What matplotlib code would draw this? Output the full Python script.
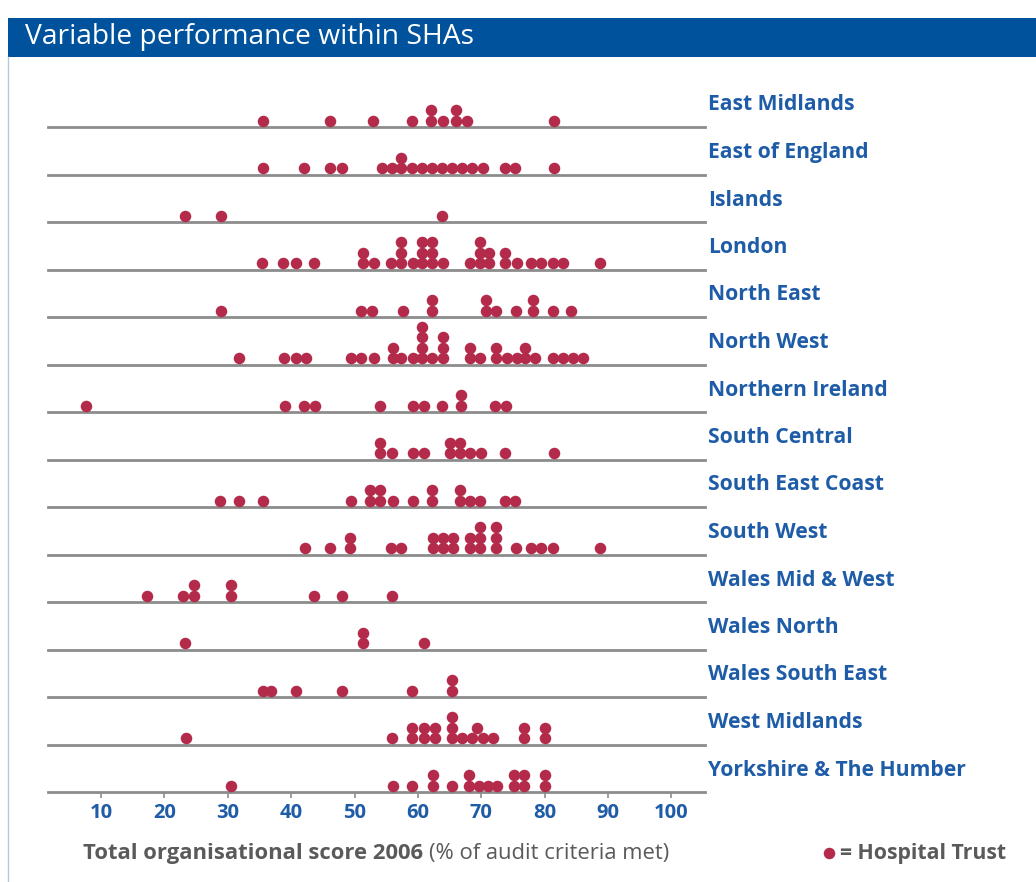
import matplotlib.pyplot as plt
from matplotlib.patches import Rectangle
from matplotlib.lines import Line2D

plt.rcParams['font.family'] = ['Open Sans', 'DejaVu Sans']

regions = ["East Midlands", "East of England", "Islands", "London", "North East",
           "North West", "Northern Ireland", "South Central", "South East Coast",
           "South West", "Wales Mid & West", "Wales North", "Wales South East",
           "West Midlands", "Yorkshire & The Humber"]

# scores per hospital trust (equal values stack up)
east_midlands = [35.5, 46.2, 52.9, 59.1, 62.1, 62.1, 64.0, 66.0, 66.0, 67.8, 81.5]
east_of_england = [35.5, 42.1, 46.2, 48.0, 54.3, 55.9, 57.4, 57.4, 59.0, 60.6, 62.2,
                   63.8, 65.4, 67.0, 68.6, 70.2, 73.7, 75.4, 81.5]
islands = [23.2, 29.0, 63.8]
london = [35.4, 38.7, 40.7, 43.6, 51.4, 51.4, 53.1, 55.8, 57.4, 57.4, 57.4, 59.2,
          60.7, 60.7, 60.7, 62.3, 62.3, 62.3, 64.0, 68.2, 69.8, 69.8, 69.8, 71.2,
          71.2, 73.7, 73.7, 75.6, 77.9, 79.5, 81.3, 82.9, 88.7]
north_east = [28.9, 51.1, 52.7, 57.6, 62.3, 62.3, 70.8, 70.8, 72.4, 75.5, 78.2,
              78.2, 81.3, 84.1]
north_west = [31.8, 38.9, 40.7, 42.3, 49.5, 51.1, 53.0, 56.0, 56.0, 57.4, 59.2,
              60.7, 60.7, 60.7, 60.7, 62.3, 64.0, 64.0, 64.0, 68.2, 68.2, 69.8,
              72.4, 72.4, 74.0, 75.6, 76.9, 76.9, 78.5, 81.3, 82.9, 84.5, 86.1]
northern_ireland = [7.6, 39.1, 42.1, 43.8, 54.1, 59.3, 60.9, 63.8, 66.8, 66.8,
                    72.2, 73.9]
south_central = [54.1, 54.1, 55.9, 59.3, 61.0, 65.1, 65.1, 66.7, 66.7, 68.3,
                 69.9, 73.7, 81.4]
south_east_coast = [28.7, 31.7, 35.5, 49.5, 52.4, 52.4, 54.0, 54.0, 56.1, 59.3,
                    62.3, 62.3, 66.6, 66.6, 68.2, 69.8, 73.7, 75.3]
south_west = [42.2, 46.1, 49.3, 49.3, 55.8, 57.4, 62.4, 62.4, 64.0, 64.0, 65.6,
              65.6, 68.2, 68.2, 69.8, 69.8, 69.8, 72.4, 72.4, 72.4, 75.5, 77.9,
              79.5, 81.3, 88.7]
wales_mid_west = [17.2, 23.0, 24.7, 24.7, 30.5, 30.5, 43.6, 48.0, 55.9]
wales_north = [23.2, 51.3, 51.3, 60.9]
wales_south_east = [35.5, 36.8, 40.8, 48.0, 59.1, 65.4, 65.4]
west_midlands = [23.4, 55.9, 59.1, 59.1, 60.9, 60.9, 62.7, 62.7, 65.4, 65.4, 65.4,
                 67.0, 68.6, 69.4, 70.2, 71.9, 76.7, 76.7, 80.0, 80.0]
yorkshire = [30.5, 56.1, 59.1, 62.4, 62.4, 65.4, 68.1, 68.1, 69.6, 71.1, 72.5,
             75.1, 75.1, 76.7, 76.7, 80.0, 80.0]

scores = [east_midlands, east_of_england, islands, london, north_east, north_west,
          northern_ireland, south_central, south_east_coast, south_west,
          wales_mid_west, wales_north, wales_south_east, west_midlands, yorkshire]

xticks = [10, 20, 30, 40, 50, 60, 70, 80, 90, 100]

W, H = 1036, 882
dot_red = '#B32A4B'
label_blue = '#1F5CA8'
grey_text = '#5A5A5A'
row_px = 47.5  # pixels between baselines


def stack(vals, gap=1.2):
    placed = []
    for v in sorted(vals):
        lvl = 0
        while any(abs(v - x) < gap for x, l in placed if l == lvl):
            lvl += 1
        placed.append((v, lvl))
    return placed


fig = plt.figure(figsize=(W / 100, H / 100), dpi=100)

# title bar
fig.patches.append(Rectangle((8 / W, 1 - 57 / H), 1, 39 / H, transform=fig.transFigure,
                             facecolor='#00529C', edgecolor='none'))
fig.text(25 / W, 1 - 37 / H, "Variable performance within SHAs", color='white',
         fontsize=20.3, va='center', ha='left')
fig.lines.append(Line2D([8 / W, 8 / W], [0, 1 - 57 / H], transform=fig.transFigure,
                        color='#B8C8DA', lw=1))

ax = fig.add_axes([48 / W, 1 - 792 / H, (705 - 48) / W, (792 - 70) / H])
ax.set_xlim(1.64, 105.3)
ax.set_ylim(len(regions) - 1, -(127 - 70) / row_px)
for s in ax.spines.values():
    s.set_visible(False)
ax.set_yticks([])

for i, (name, vals) in enumerate(zip(regions, scores)):
    ax.axhline(i, color='#8C8C8C', lw=2, zorder=1, clip_on=False)
    pts = stack(vals)
    xs = [p[0] for p in pts]
    ys = [i - (6.5 + 10.5 * p[1]) / row_px for p in pts]
    ax.plot(xs, ys, 'o', color=dot_red, ms=8.3, mec='none', zorder=3, clip_on=False)
    ax.text(1.005, i - 22 / row_px, name, transform=ax.get_yaxis_transform(),
            color=label_blue, fontsize=15.2, fontweight='bold', va='center', ha='left')

ax.set_xticks(xticks)
ax.set_xticklabels([str(t) for t in xticks])
ax.tick_params(axis='x', length=4, width=1.2, color='#8C8C8C', pad=4,
               labelsize=14.5, labelcolor=label_blue)
for lab in ax.get_xticklabels():
    lab.set_fontweight('bold')

# axis caption in two weights
fig.canvas.draw()
t1 = fig.text(83 / W, 1 - 853 / H, "Total organisational score 2006 ", color=grey_text,
              fontsize=15.8, fontweight='bold', va='center', ha='left')
fig.canvas.draw()
bb = t1.get_window_extent()
fig.text(bb.x1 / W, 1 - 853 / H, "(% of audit criteria met)", color=grey_text,
         fontsize=15.8, va='center', ha='left')

# legend
fig.lines.append(Line2D([829 / W], [1 - 853 / H], transform=fig.transFigure, marker='o',
                        ms=8.3, color=dot_red, mec='none', ls='none'))
fig.text(840 / W, 1 - 853 / H, "= Hospital Trust", color=grey_text, fontsize=15.3,
         fontweight='bold', va='center', ha='left')

fig.savefig('out.png', dpi=100)
